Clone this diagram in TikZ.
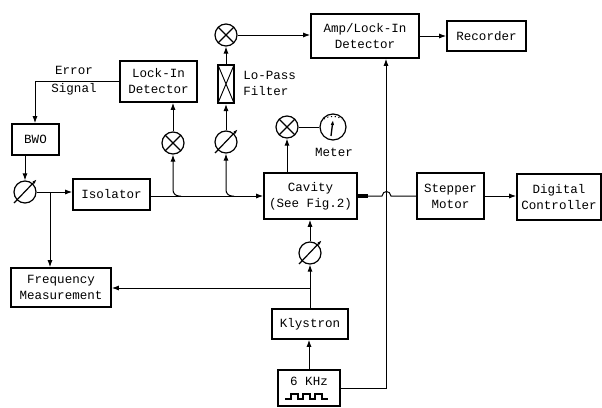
\documentclass[tikz,border=0pt]{standalone}
\usepackage{fontspec}
\setmonofont{Liberation Mono}
\usetikzlibrary{arrows.meta,calc}
\tikzset{
  bx/.style 2 args={draw,line width=1.2pt,inner sep=0pt,align=center,minimum width=#1*0.75pt,minimum height=#2*0.75pt},
  txt/.style={inner sep=0pt,align=left},
  ring/.style={draw,circle,line width=0.9pt,inner sep=0pt,minimum size=22*0.75pt},
  mixer/.style={ring,path picture={
    \draw[line width=0.9pt] (path picture bounding box.south west)--(path picture bounding box.north east)
      (path picture bounding box.north west)--(path picture bounding box.south east);}},
  wire/.style={line width=0.75pt},
  arr/.style={wire,-{Latex[length=7*0.75pt,width=5*0.75pt]}},
  slash/.style={line width=0.9pt,-{Latex[length=5*0.75pt,width=3*0.75pt]}}
}
\newcommand{\slashed}[1]{\draw[slash] ($(#1)+(-11,11)$) -- ($(#1)+(12,-13)$);}
\begin{document}
\begin{tikzpicture}[x=0.75pt,y=-0.75pt,font=\ttfamily\fontsize{9.4}{12}\selectfont]
\useasboundingbox (0,0) rectangle (602,407);
% boxes
\node[bx={77}{41}] (lock) at (158.5,81.5) {Lock-In\\Detector};
\node[bx={47}{31}] (bwo) at (35.5,139.5) {BWO};
\node[bx={77}{31}] (iso) at (111.5,194.5) {Isolator};
\node[bx={93}{46}] (cav) at (310.5,196) {Cavity\\(See Fig.2)};
\node[bx={108}{44}] (amp) at (365,36) {Amp/Lock-In\\Detector};
\node[bx={79}{30}] (rec) at (486.5,36) {Recorder};
\node[bx={67}{46}] (step) at (450.5,196) {Stepper\\Motor};
\node[bx={84}{46}] (dig) at (559,197) {Digital\\Controller};
\node[bx={100}{39}] (freq) at (61,287.5) {Frequency\\Measurement};
\node[bx={76}{30}] (kly) at (310,324) {Klystron};
\node[bx={62}{36}] (khz) at (309,388) {};
\node[txt] (khzt) at (309,381) {6 KHz};
% filter
\node[draw,line width=1.5pt,inner sep=0pt,minimum width=16*0.75pt,minimum height=38*0.75pt,
  path picture={\draw[line width=0.7pt] (path picture bounding box.south west)--(path picture bounding box.north east)
      (path picture bounding box.north west)--(path picture bounding box.south east);}] (filt) at (226,84) {};
% round elements
\node[mixer] (mtop) at (226,35) {};
\node[mixer] (mli) at (173,143) {};
\node[mixer] (mcav) at (287,127) {};
\node[ring] (slp) at (226,142) {};
\node[ring] (sbwo) at (25,192) {};
\node[ring] (scav) at (310,253) {};
\slashed{slp}\slashed{sbwo}\slashed{scav}
\node[ring,minimum size=26*0.75pt] (met) at (333,127) {};
\draw[dotted,line width=0.8pt] ($(met)+(-9,-8)$) .. controls ($(met)+(-4,-11.5)$) and ($(met)+(4,-11.5)$) .. ($(met)+(9,-8)$);
\draw[line width=1pt,-{Latex[length=5*0.75pt,width=3.5*0.75pt]}] ($(met)+(-2,9)$) -- ($(met)+(0,-7)$);
% labels
\node[txt] (lerr) at (74,70) {Error};
\node[txt] (lsig) at (74,89) {Signal};
\node[txt,anchor=west] (llo) at (243,83) {Lo-Pass\\Filter};
\node[txt] (lmet) at (334,152) {Meter};
% junctions
\coordinate (jfreq) at (50,192);
\coordinate (jli) at (181,196);
\coordinate (jlp) at (234,196);
\coordinate (jkly) at (310,288);
\coordinate (hopa) at (382,196);
\coordinate (hopb) at (391,196);
\coordinate (vert) at (386,300);
\coordinate (lockout) at (35,80);
% connectors
\draw[arr] (lock.west) -- (lockout |- lock.west) -- (lockout |- bwo.north);
\draw[arr] (sbwo |- bwo.south) -- (sbwo.north);
\draw[arr] (sbwo.east) -- (iso.west |- sbwo);
\draw[arr] (jfreq) -- (jfreq |- freq.north);
\draw[arr] (iso.east |- jli) -- (cav.west |- jli);
\draw[arr,rounded corners=6*0.75pt] (jli) -- (mli |- jli) -- (mli.south);
\draw[arr,rounded corners=6*0.75pt] (jlp) -- (slp |- jlp) -- (slp.south);
\draw[arr] (mli.north) -- (mli |- lock.south);
\draw[arr] (slp.north) -- (slp |- filt.south);
\draw[arr] (mtop |- filt.north) -- (mtop.south);
\draw[arr] (mtop.east) -- (amp.west |- mtop);
\draw[arr] (mcav |- cav.north) -- (mcav.south);
\draw[wire] (mcav.east) -- (met.west);
\draw[arr] (amp.east) -- (rec.west);
\draw[wire] (cav.east) -- (hopa) .. controls ($(hopa)+(1,-6)$) and ($(hopb)+(-1,-6)$) .. (hopb) -- (step.west);
\draw[line width=2.6pt] (cav.east) -- ++(10,0);
\draw[arr] (step.east) -- (step.east -| dig.west);
\draw[arr] (kly.north) -- (scav.south);
\draw[arr] (scav.north) -- (scav |- cav.south);
\draw[arr] (jkly) -- (jkly -| freq.east);
\draw[arr] (khz.north) -- (khz |- kly.south);
\draw[arr] (khz.east) -- (vert |- khz.east) -- (vert |- amp.south);
% pulse train
\draw[line width=0.8pt] ($(khz)+(-24,11)$) -- ++(6,0) -- ++(0,-5) -- ++(7,0) -- ++(0,5) -- ++(5,0) -- ++(0,-5)
  -- ++(7,0) -- ++(0,5) -- ++(5,0) -- ++(0,-5) -- ++(7,0) -- ++(0,5) -- ++(6,0);
\end{tikzpicture}
\end{document}
